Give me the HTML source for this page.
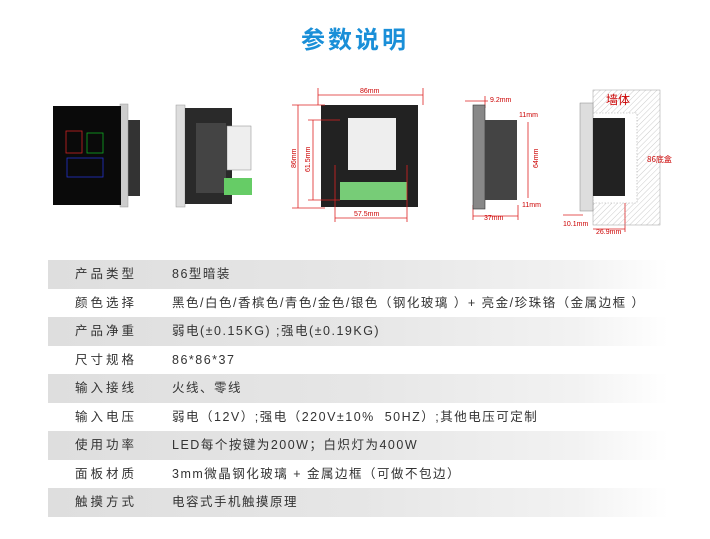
<!DOCTYPE html>
<html><head><meta charset="utf-8"><style>
body{margin:0;width:710px;height:539px;background:#fff;position:relative;overflow:hidden;font-family:"Liberation Sans","Noto Sans CJK SC",sans-serif;}
.t{position:absolute;left:0;top:20px;width:710px;text-align:center;color:#1a8fd8;font-size:24px;letter-spacing:3px;font-weight:bold;}
.row{position:absolute;left:48px;width:620px;height:28.5px;font-size:12.5px;color:#333;letter-spacing:1.5px;}
.g{background:linear-gradient(to right,#dedede 0%,#e6e6e6 50%,#f2f2f2 85%,#fff 100%);}
.row span{position:absolute;top:6px;line-height:17px;height:17px;font-family:"Liberation Sans","Noto Sans CJK SC",sans-serif;}
.l{left:27px;letter-spacing:3px}
.v{left:124px}
</style></head><body>
<div class="t">参数说明</div>
<svg width="710" height="250" style="position:absolute;left:0;top:0" font-family="Liberation Sans" font-size="7" fill="#c00">
<rect x="127" y="120" width="13" height="76" fill="#333"/>
<rect x="120" y="104" width="8" height="103" fill="#ccc" stroke="#999" stroke-width="0.5"/>
<rect x="53" y="106" width="68" height="99" fill="#0a0a0a"/>
<rect x="66" y="131" width="16" height="22" fill="none" stroke="#c22" stroke-width="0.8"/>
<rect x="87" y="133" width="16" height="20" fill="none" stroke="#1a2" stroke-width="0.8"/>
<rect x="67" y="158" width="36" height="19" fill="none" stroke="#23c" stroke-width="0.8"/>
<rect x="176" y="105" width="9" height="102" fill="#ddd" stroke="#999" stroke-width="0.5"/>
<rect x="185" y="108" width="47" height="96" fill="#2a2a2a"/>
<rect x="196" y="123" width="30" height="70" fill="#444"/>
<rect x="227" y="126" width="24" height="44" fill="#eee" stroke="#888" stroke-width="0.5"/>
<rect x="224" y="178" width="28" height="17" fill="#6c6"/>
<rect x="321" y="105" width="97" height="102" fill="#222"/>
<rect x="348" y="118" width="48" height="52" fill="#eee"/>
<rect x="340" y="182" width="67" height="18" fill="#7c7"/>
<g stroke="#d22" stroke-width="0.8" fill="none">
<line x1="318" y1="95" x2="423" y2="95"/><line x1="318" y1="88" x2="318" y2="105"/><line x1="423" y1="88" x2="423" y2="105"/>
<line x1="298" y1="105" x2="298" y2="208"/><line x1="292" y1="105" x2="325" y2="105"/><line x1="292" y1="208" x2="325" y2="208"/>
<line x1="313" y1="120" x2="313" y2="200"/><line x1="308" y1="120" x2="340" y2="120"/><line x1="308" y1="200" x2="340" y2="200"/>
<line x1="335" y1="218" x2="407" y2="218"/><line x1="335" y1="165" x2="335" y2="222"/><line x1="407" y1="165" x2="407" y2="222"/>
<line x1="528" y1="122" x2="528" y2="198"/><line x1="473" y1="216" x2="518" y2="216"/><line x1="473" y1="205" x2="473" y2="220"/><line x1="518" y1="205" x2="518" y2="220"/>
<line x1="465" y1="101" x2="488" y2="101"/><line x1="485" y1="96" x2="485" y2="108"/>
<line x1="563" y1="215" x2="583" y2="215"/><line x1="593" y1="229" x2="625" y2="229"/><line x1="625" y1="200" x2="625" y2="232"/>
</g>
<text x="360" y="93">86mm</text><text x="354" y="216">57.5mm</text>
<text x="296" y="168" transform="rotate(-90 296 168)">86mm</text>
<text x="310" y="172" transform="rotate(-90 310 172)">61.5mm</text>
<rect x="473" y="105" width="12" height="104" fill="#888" stroke="#333" stroke-width="0.6"/>
<rect x="485" y="120" width="32" height="80" fill="#444"/>
<text x="490" y="102">9.2mm</text><text x="519" y="117">11mm</text><text x="522" y="207">11mm</text><text x="484" y="220">37mm</text>
<text x="538" y="168" transform="rotate(-90 538 168)">64mm</text>
<defs><pattern id="h" width="4" height="4" patternUnits="userSpaceOnUse" patternTransform="rotate(45)"><line x1="0" y1="0" x2="0" y2="4" stroke="#aaa" stroke-width="0.6"/></pattern></defs>
<rect x="593" y="90" width="67" height="135" fill="url(#h)" stroke="#999" stroke-width="0.5"/>
<rect x="593" y="113" width="44" height="90" fill="#fff" stroke="#aaa" stroke-dasharray="1.5" stroke-width="0.6"/>
<rect x="580" y="103" width="13" height="108" fill="#ddd" stroke="#888" stroke-width="0.5"/>
<rect x="593" y="118" width="32" height="78" fill="#222"/>
<text x="606" y="104" font-size="12" font-family="Noto Sans CJK SC">墙体</text>
<text x="647" y="162" font-size="8" font-family="Noto Sans CJK SC">86底盒</text>
<text x="563" y="226">10.1mm</text><text x="596" y="234">26.9mm</text>
</svg>
<div class="row g" style="top:260px"><span class="l">产品类型</span><span class="v">86型暗装</span></div>
<div class="row" style="top:288.5px"><span class="l">颜色选择</span><span class="v">黑色/白色/香槟色/青色/金色/银色（钢化玻璃 ）+ 亮金/珍珠铬（金属边框 ）</span></div>
<div class="row g" style="top:317px"><span class="l">产品净重</span><span class="v">弱电(±0.15KG) ;强电(±0.19KG)</span></div>
<div class="row" style="top:345.5px"><span class="l">尺寸规格</span><span class="v">86*86*37</span></div>
<div class="row g" style="top:374px"><span class="l">输入接线</span><span class="v">火线、零线</span></div>
<div class="row" style="top:402.5px"><span class="l">输入电压</span><span class="v">弱电（12V）;强电（220V±10%&nbsp; 50HZ）;其他电压可定制</span></div>
<div class="row g" style="top:431px"><span class="l">使用功率</span><span class="v">LED每个按键为200W；白炽灯为400W</span></div>
<div class="row" style="top:459.5px"><span class="l">面板材质</span><span class="v">3mm微晶钢化玻璃 + 金属边框（可做不包边）</span></div>
<div class="row g" style="top:488px"><span class="l">触摸方式</span><span class="v">电容式手机触摸原理</span></div>
</body></html>
